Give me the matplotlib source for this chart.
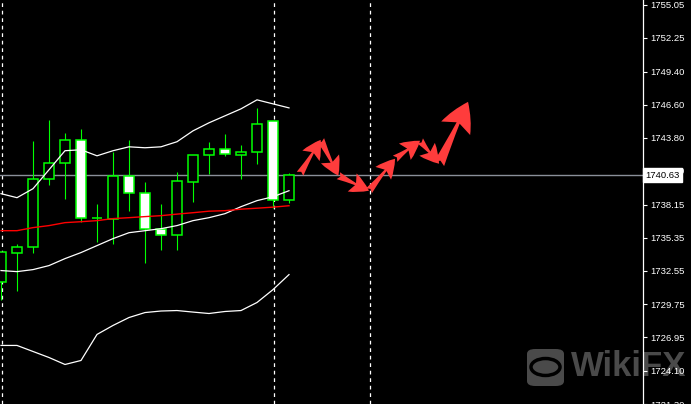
import matplotlib
matplotlib.use("Agg")
import matplotlib.pyplot as plt
import numpy as np
from matplotlib.patches import FancyBboxPatch, Circle

# candle data (index 0 = leftmost bar)
opens  = [1731.65, 1734.10, 1734.60, 1740.34, 1741.69, 1743.63, 1737.01, 1736.97, 1740.60, 1739.16,
          1736.12, 1735.62, 1740.09, 1742.37, 1742.87, 1742.37, 1742.62, 1745.24, 1738.57]
highs  = [1734.18, 1734.86, 1743.55, 1745.32, 1744.22, 1744.56, 1738.23, 1742.62, 1743.63, 1740.09,
          1738.23, 1740.93, 1742.37, 1743.47, 1744.14, 1743.21, 1746.33, 1745.24, 1740.85]
lows   = [1730.13, 1730.81, 1734.10, 1739.84, 1738.65, 1736.71, 1735.03, 1734.86, 1737.64, 1733.25,
          1734.35, 1734.35, 1738.40, 1740.76, 1742.28, 1740.34, 1741.61, 1737.89, 1738.32]
closes = [1734.18, 1734.60, 1740.34, 1741.69, 1743.63, 1737.05, 1737.05, 1740.60, 1739.16, 1736.12,
          1735.62, 1740.17, 1742.37, 1742.87, 1742.45, 1742.62, 1744.98, 1738.57, 1740.63]

# bollinger bands + moving average
bb_upper = [1739.08, 1738.74, 1739.50, 1741.10, 1742.71, 1742.79, 1742.28, 1742.71, 1743.04, 1742.96,
            1743.04, 1743.47, 1744.39, 1745.07, 1745.66, 1746.25, 1747.01, 1746.67, 1746.33]
bb_mid   = [1732.58, 1732.49, 1732.66, 1733.00, 1733.59, 1734.10, 1734.69, 1735.28, 1735.78, 1735.95,
            1736.12, 1736.38, 1736.80, 1737.05, 1737.39, 1737.98, 1738.49, 1738.82, 1739.33]
bb_lower = [1726.25, 1726.25, 1725.74, 1725.23, 1724.64, 1724.98, 1727.18, 1727.94, 1728.61, 1729.03,
            1729.16, 1729.20, 1729.07, 1728.95, 1729.12, 1729.20, 1729.88, 1730.97, 1732.24]
ma_red   = [1735.95, 1735.95, 1736.21, 1736.38, 1736.63, 1736.71, 1736.80, 1736.97, 1737.05, 1737.14,
            1737.22, 1737.35, 1737.47, 1737.60, 1737.64, 1737.77, 1737.85, 1737.94, 1738.06]

# forecast path drawn as red arrows (bar index, price)
path_x = [18.69, 19.98, 21.08, 23.0, 24.63, 26.19, 27.38, 29.19]
path_y = [1740.76, 1743.63, 1740.60, 1739.33, 1742.03, 1743.55, 1741.61, 1746.84]

separators = [0, 17, 23]
last_price = 1740.63
price_ticks = [1755.05, 1752.25, 1749.40, 1746.60, 1743.80, 1741.00, 1738.15,
               1735.35, 1732.55, 1729.75, 1726.95, 1724.10, 1721.30]

GREEN = "#00ff00"

fig = plt.figure(figsize=(6.91, 4.04), dpi=100, facecolor="black")
ax = fig.add_axes([0, 0, 643 / 691, 1])
ax.patch.set_visible(False)

x = np.arange(len(opens))
o = np.array(opens); c = np.array(closes)
bull = c > o + 0.01
bear = c < o - 0.01
doji = ~(bull | bear)

ax.vlines(x, lows, highs, color=GREEN, lw=0.8, zorder=3)
bw = 0.64
ax.bar(x[bull], (c - o)[bull], bottom=o[bull], width=bw, facecolor="black",
       edgecolor=GREEN, lw=1.1, zorder=4)
ax.bar(x[bear], (o - c)[bear], bottom=c[bear], width=bw, facecolor="white",
       edgecolor=GREEN, lw=1.1, zorder=4)
ax.hlines(c[doji], x[doji] - bw / 2, x[doji] + bw / 2, color=GREEN, lw=2.2, zorder=4)

for band in (bb_upper, bb_mid, bb_lower):
    ax.plot(x, band, color="white", lw=0.9, zorder=5)
ax.plot(x, ma_red, color="#ff0000", lw=1.0, zorder=5)

for s in separators:
    ax.axvline(s + 0.04, color="white", lw=0.9, ls=(0, (3, 3)), zorder=2)

ax.axhline(last_price, color="#8a8f99", lw=1.0, zorder=2)

for i in range(len(path_x) - 1):
    big = i == len(path_x) - 2
    style = ("fancy,head_length=2.1,head_width=2.3,tail_width=0.8" if big
             else "fancy,head_length=1.35,head_width=1.45,tail_width=0.55")
    ax.annotate("", xy=(path_x[i + 1], path_y[i + 1]), xytext=(path_x[i], path_y[i]),
                arrowprops=dict(arrowstyle=style, color="#ff3c3c", lw=0,
                                shrinkA=0, shrinkB=0), zorder=6)

ax.set_xlim(-1 / 16, 642 / 16)
ax.set_ylim(1755.45 - 0.0844 * 404, 1755.45)
ax.set_xticks([])
ax.yaxis.tick_right()
ax.set_yticks(price_ticks)
ax.set_yticklabels([f"{t:.2f}" for t in price_ticks])
ax.tick_params(axis="y", colors="white", length=3, width=0.8, pad=2, labelsize=6.8)
for lbl in ax.get_yticklabels():
    lbl.set_family("Liberation Sans")
for side in ("left", "top", "bottom"):
    ax.spines[side].set_visible(False)
ax.spines["right"].set_color("white")
ax.spines["right"].set_linewidth(0.9)

ax.text(1.003, last_price, f"{last_price:.2f}", transform=ax.get_yaxis_transform(),
        ha="left", va="center", fontsize=6.8, family="Liberation Sans", color="black",
        clip_on=False, zorder=10,
        bbox=dict(boxstyle="square,pad=0.25", facecolor="white", edgecolor="white"))

# WikiFX watermark (behind the chart)
W, H = 691, 404
fig.patches.append(FancyBboxPatch((527 / W, (H - 386) / H), 37 / W, 37 / H,
                                  boxstyle="round,pad=0,rounding_size=0.012",
                                  transform=fig.transFigure, facecolor="#4a4a4a",
                                  edgecolor="none", zorder=-2))
fig.patches.append(Circle((545.5 / W, (H - 367) / H), 0.021, transform=fig.transFigure,
                          facecolor="none", edgecolor="black", lw=2.5, zorder=-1))
fig.text(571 / W, (H - 367) / H, "WikiFX", fontsize=25, fontweight="bold",
         family="Liberation Sans", color="#4a4a4a", va="center", ha="left", zorder=-1)

fig.savefig("out.png", dpi=100, facecolor="black")
